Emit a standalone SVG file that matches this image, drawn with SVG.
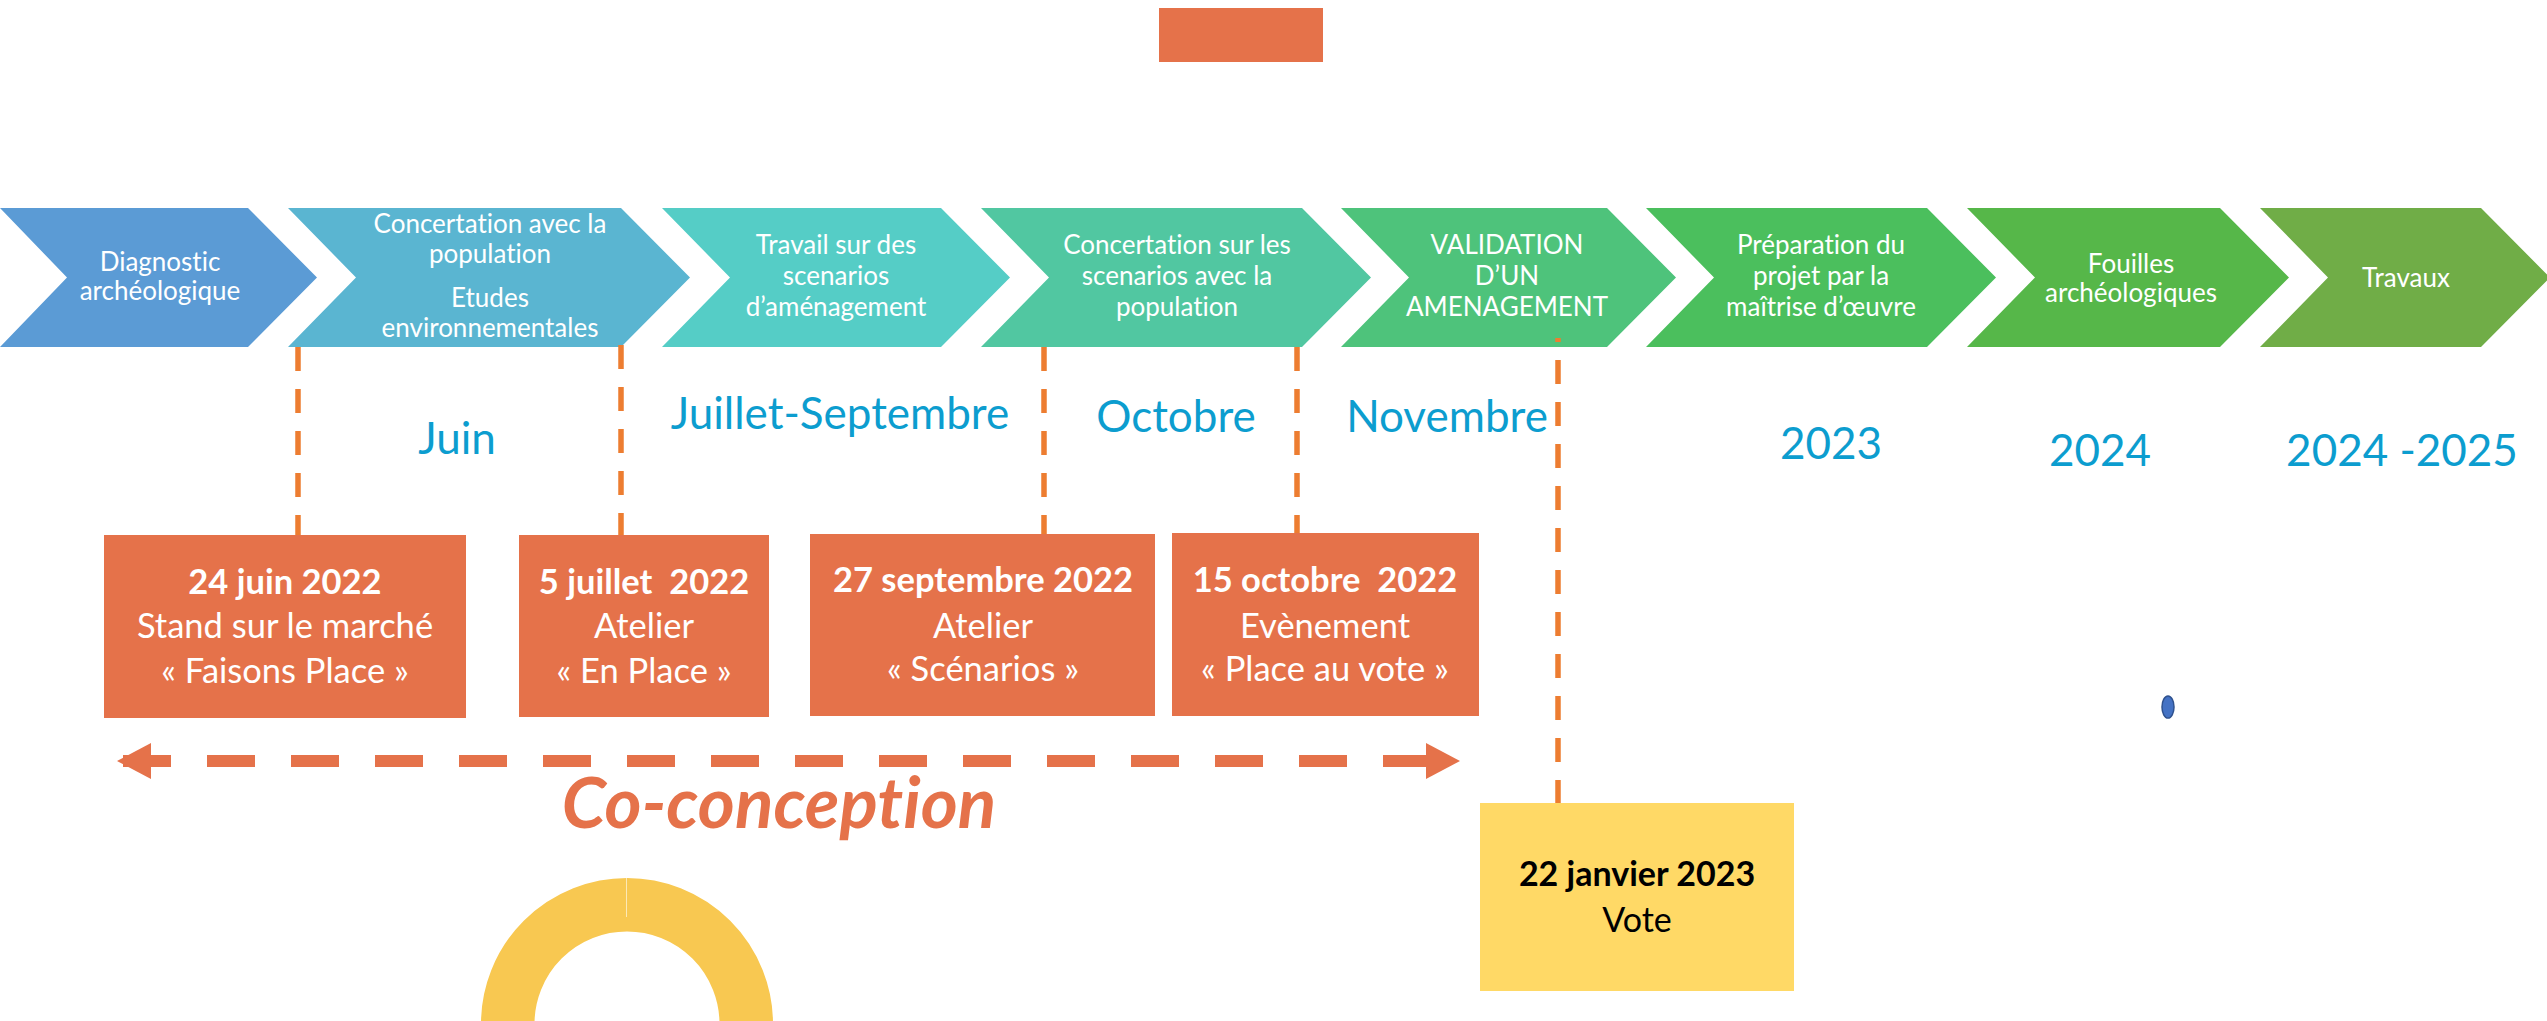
<svg xmlns="http://www.w3.org/2000/svg" width="2547" height="1021" viewBox="0 0 2547 1021">
<defs>
<style>
text{font-family:Lato,"Open Sans","Liberation Sans",sans-serif;text-anchor:middle;white-space:pre;font-variant-ligatures:none;font-feature-settings:"liga" 0,"dlig" 0}
.ch{fill:#fff;font-size:26px}
.mo{fill:#0C9DCF;font-size:44px}
.bx{fill:#E5724A}
.bt{fill:#fff;font-size:34.5px}
.b{font-weight:bold}
.vl{stroke:#ED7D31;stroke-width:5.5;stroke-dasharray:24 18;fill:none}
</style>
<marker id="ah" viewBox="0 0 34 36" refX="34" refY="18" markerWidth="34" markerHeight="36" markerUnits="userSpaceOnUse" orient="auto-start-reverse">
<path d="M0,0 L34,18 L0,36 Z" fill="#E5724A"/>
</marker>
</defs>
<rect width="2547" height="1021" fill="#fff"/>
<g id="top-rect"><rect class="bx" x="1159" y="8" width="164" height="54"/></g>

<g id="chev1"><path d="M0,208 L248,208 L317,277.5 L248,347 L0,347 L67,277.5 Z" fill="#5B9BD5"/>
<text class="ch" x="160" y="271">Diagnostic</text><text class="ch" x="160" y="300">archéologique</text></g>
<g id="chev2"><path d="M288,208 L621,208 L690,277.5 L621,347 L288,347 L356,277.5 Z" fill="#5AB5D1"/>
<text class="ch" x="490" y="233">Concertation avec la</text><text class="ch" x="490" y="263">population</text>
<text class="ch" x="490" y="307">Etudes</text><text class="ch" x="490" y="337">environnementales</text></g>
<g id="chev3"><path d="M662,208 L941,208 L1010,277.5 L941,347 L662,347 L730,277.5 Z" fill="#55CDC6"/>
<text class="ch" x="836" y="254">Travail sur des</text><text class="ch" x="836" y="285">scenarios</text><text class="ch" x="836" y="316">d’aménagement</text></g>
<g id="chev4"><path d="M981,208 L1302,208 L1371,277.5 L1302,347 L981,347 L1049,277.5 Z" fill="#51C7A1"/>
<text class="ch" x="1177" y="254">Concertation sur les</text><text class="ch" x="1177" y="285">scenarios avec la</text><text class="ch" x="1177" y="316">population</text></g>
<g id="chev5"><path d="M1341,208 L1607,208 L1676,277.5 L1607,347 L1341,347 L1409,277.5 Z" fill="#4EC37B"/>
<text class="ch" x="1507" y="254">VALIDATION</text><text class="ch" x="1507" y="285">D’UN</text><text class="ch" x="1507" y="316">AMENAGEMENT</text></g>
<g id="chev6"><path d="M1646,208 L1927,208 L1996,277.5 L1927,347 L1646,347 L1714,277.5 Z" fill="#4BBF5D"/>
<text class="ch" x="1821" y="254">Préparation du</text><text class="ch" x="1821" y="285">projet par la</text><text class="ch" x="1821" y="316">maîtrise d’œuvre</text></g>
<g id="chev7"><path d="M1967,208 L2220,208 L2289,277.5 L2220,347 L1967,347 L2035,277.5 Z" fill="#56B749"/>
<text class="ch" x="2131" y="273">Fouilles</text><text class="ch" x="2131" y="302">archéologiques</text></g>
<g id="chev8"><path d="M2260,208 L2481,208 L2550,277.5 L2481,347 L2260,347 L2328,277.5 Z" fill="#70AD47"/>
<text class="ch" x="2406" y="287">Travaux</text></g>

<g id="periods">
<text class="mo" x="457" y="454">Juin</text>
<text class="mo" x="840" y="429">Juillet-Septembre</text>
<text class="mo" x="1176" y="432">Octobre</text>
<text class="mo" x="1447" y="432">Novembre</text>
<text class="mo" x="1831" y="459">2023</text>
<text class="mo" x="2100" y="466">2024</text>
<text class="mo" x="2402" y="466">2024 -2025</text>
</g>

<g id="connectors">
<line class="vl" x1="298" y1="347" x2="298" y2="535"/>
<line class="vl" x1="621" y1="345" x2="621" y2="535"/>
<line class="vl" x1="1044" y1="347" x2="1044" y2="534"/>
<line class="vl" x1="1297" y1="347" x2="1297" y2="533"/>
<line class="vl" x1="1558" y1="338" x2="1558" y2="803" stroke-dashoffset="20"/>
<line x1="117" y1="761" x2="1460" y2="761" stroke="#E5724A" stroke-width="12" stroke-dasharray="48 36" stroke-dashoffset="78" marker-start="url(#ah)" marker-end="url(#ah)"/>
</g>

<g id="event1"><rect class="bx" x="104" y="535" width="362" height="183"/>
<text class="bt b" x="285" y="594">24 juin 2022</text><text class="bt" x="285" y="638">Stand sur le marché</text><text class="bt" x="285" y="683">« Faisons Place »</text></g>
<g id="event2"><rect class="bx" x="519" y="535" width="250" height="182"/>
<text class="bt b" x="644" y="594">5 juillet  2022</text><text class="bt" x="644" y="638">Atelier</text><text class="bt" x="644" y="683">« En Place »</text></g>
<g id="event3"><rect class="bx" x="810" y="534" width="345" height="182"/>
<text class="bt b" x="983" y="592">27 septembre 2022</text><text class="bt" x="983" y="638">Atelier</text><text class="bt" x="983" y="681">« Scénarios »</text></g>
<g id="event4"><rect class="bx" x="1172" y="533" width="307" height="183"/>
<text class="bt b" x="1325" y="592">15 octobre  2022</text><text class="bt" x="1325" y="638">Evènement</text><text class="bt" x="1325" y="681">« Place au vote »</text></g>

<g id="co-conception"><text x="779" y="828" font-size="71" font-weight="bold" font-style="italic" fill="#E5724A">Co-conception</text></g>

<g id="vote"><rect x="1480" y="803" width="314" height="188" fill="#FFD966"/>
<text x="1637" y="886" font-size="34" font-weight="bold" fill="#000">22 janvier 2023</text>
<text x="1637" y="932" font-size="34" fill="#000">Vote</text></g>

<g id="ring"><circle cx="627" cy="1024" r="119.25" fill="none" stroke="#F8C851" stroke-width="53.5"/>
<line x1="626.5" y1="878" x2="626.5" y2="917" stroke="#FCE9B6" stroke-width="1"/></g>

<g id="dot"><ellipse cx="2168" cy="707" rx="6" ry="11" fill="#4472C4" stroke="#2F528F" stroke-width="1.5"/></g>
</svg>
